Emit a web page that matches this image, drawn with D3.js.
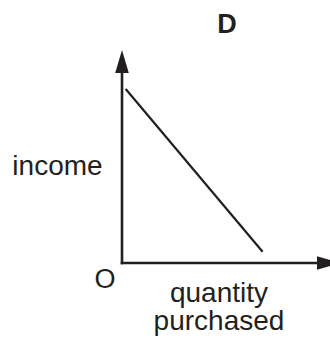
<!DOCTYPE html>
<html>
<head>
<meta charset="utf-8">
<script src="https://cdn.jsdelivr.net/npm/d3@7"></script>
<style>
  body { margin: 0; background: #fff; }
  svg { display: block; }
</style>
</head>
<body>
<div id="chart"></div>
<script>
// Demand curve D: income vs quantity purchased (axis units 0-10)
const curveQuantity = [0.17, 6.45];
const curveIncome = [8.17, 0.53];
const axisMax = [10, 10];
const labels = ['income', 'quantity', 'purchased', 'O', 'D'];

const width = 330;
const height = 341;
const ink = '#231f20';

const svg = d3.select('#chart')
  .append('svg')
  .attr('width', width)
  .attr('height', height);

const x = d3.scaleLinear().domain([0, axisMax[0]]).range([122, 340]);
const y = d3.scaleLinear().domain([0, axisMax[1]]).range([263, 50]);

// Axes
svg.append('line')
  .attr('x1', x(0)).attr('y1', y(0) + 1.3)
  .attr('x2', x(0)).attr('y2', y(axisMax[1]) + 15)
  .attr('stroke', ink)
  .attr('stroke-width', 2.6);

svg.append('line')
  .attr('x1', x(0) - 1.3).attr('y1', y(0))
  .attr('x2', x(axisMax[0]) - 15).attr('y2', y(0))
  .attr('stroke', ink)
  .attr('stroke-width', 2.6);

// Arrowheads
const headLen = 23;
const headHalf = 6.8;
svg.append('path')
  .attr('d', `M${x(0)},${y(axisMax[1])} L${x(0) + headHalf},${y(axisMax[1]) + headLen} L${x(0) - headHalf},${y(axisMax[1]) + headLen}Z`)
  .attr('fill', ink);

svg.append('path')
  .attr('d', `M${x(axisMax[0])},${y(0)} L${x(axisMax[0]) - headLen},${y(0) - headHalf} L${x(axisMax[0]) - headLen},${y(0) + headHalf}Z`)
  .attr('fill', ink);

// Demand line
const line = d3.line()
  .x(d => x(d[0]))
  .y(d => y(d[1]));

svg.append('path')
  .datum(d3.zip(curveQuantity, curveIncome))
  .attr('d', line)
  .attr('fill', 'none')
  .attr('stroke', ink)
  .attr('stroke-width', 2.2);

// Labels
const font = '"Liberation Sans", Arial, sans-serif';

svg.append('text')
  .attr('x', 57.5).attr('y', 175)
  .attr('text-anchor', 'middle')
  .style('font-family', font)
  .style('font-size', '28px')
  .attr('fill', ink)
  .text(labels[0]);

svg.append('text')
  .attr('x', 219).attr('y', 302)
  .attr('text-anchor', 'middle')
  .style('font-family', font)
  .style('font-size', '28px')
  .attr('fill', ink)
  .text(labels[1]);

svg.append('text')
  .attr('x', 219).attr('y', 330)
  .attr('text-anchor', 'middle')
  .style('font-family', font)
  .style('font-size', '28px')
  .attr('fill', ink)
  .text(labels[2]);

svg.append('text')
  .attr('x', 105).attr('y', 288)
  .attr('text-anchor', 'middle')
  .style('font-family', font)
  .style('font-size', '27px')
  .attr('fill', ink)
  .text(labels[3]);

svg.append('text')
  .attr('x', 227).attr('y', 33)
  .attr('text-anchor', 'middle')
  .style('font-family', font)
  .style('font-size', '27px')
  .style('font-weight', 'bold')
  .attr('fill', ink)
  .text(labels[4]);
</script>
</body>
</html>
